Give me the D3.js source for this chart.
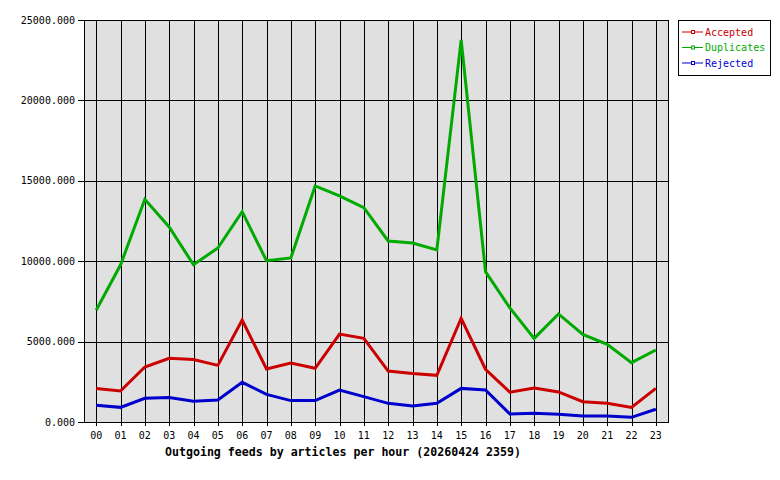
<!DOCTYPE html>
<html><head><meta charset="utf-8">
<script src="https://cdn.jsdelivr.net/npm/d3@7"></script>
<style>body{margin:0;background:#fff}svg{display:block}</style>
</head><body>
<svg id="c" width="780" height="480"></svg>
<script>
const hours = ["00","01","02","03","04","05","06","07","08","09","10","11","12","13","14","15","16","17","18","19","20","21","22","23"];
const accepted = [2090,1930,3420,3960,3880,3520,6340,3300,3670,3340,5470,5200,3170,3010,2900,6450,3280,1850,2110,1870,1260,1160,910,2090];
const duplicates = [6950,9760,13850,12130,9780,10820,13080,10030,10200,14680,14060,13330,11260,11130,10700,23760,9350,7100,5200,6720,5450,4830,3690,4480];
const rejected = [1040,910,1470,1530,1290,1370,2470,1720,1330,1330,1990,1580,1160,1000,1160,2090,1990,500,540,480,370,370,290,790];
const yTicks = [0,5000,10000,15000,20000,25000];
const seriesNames = ["Accepted","Duplicates","Rejected"];
const seriesColors = ["#cc0000","#00aa00","#0000cc"];
const title = "Outgoing feeds by articles per hour (20260424 2359)";

const svg = d3.select("#c");
const L = 84, R = 668, T = 20, B = 422;
const font = "'DejaVu Sans Mono', monospace";
const x = d3.scalePoint().domain(hours).range([L, R]).padding(0.5);
const y = d3.scaleLinear().domain([0, 25000]).range([B, T]);

svg.append("rect").attr("x", L).attr("y", T).attr("width", R - L).attr("height", B - T)
  .attr("fill", "#e0e0e0");

// vertical grid + ticks
svg.append("g").selectAll("line").data(hours).join("line")
  .attr("x1", d => Math.round(x(d)) + 0.5).attr("x2", d => Math.round(x(d)) + 0.5)
  .attr("y1", T).attr("y2", B + 4).attr("stroke", "#000").attr("stroke-width", 1);
// horizontal grid + ticks
svg.append("g").selectAll("line").data(yTicks).join("line")
  .attr("x1", L - 6).attr("x2", R)
  .attr("y1", d => Math.round(y(d)) + 0.5).attr("y2", d => Math.round(y(d)) + 0.5)
  .attr("stroke", "#000").attr("stroke-width", 1);

svg.append("rect").attr("x", L + 0.5).attr("y", T + 0.5).attr("width", R - L).attr("height", B - T)
  .attr("fill", "none").attr("stroke", "#000").attr("stroke-width", 1);

// y labels
svg.append("g").selectAll("text").data(yTicks).join("text")
  .attr("x", 75).attr("y", d => y(d)).attr("dy", "0.35em")
  .attr("text-anchor", "end").attr("font-family", font).attr("font-size", 10)
  .text(d => d3.format(".3f")(d));
// x labels
svg.append("g").selectAll("text").data(hours).join("text")
  .attr("x", d => x(d)).attr("y", 439)
  .attr("text-anchor", "middle").attr("font-family", font).attr("font-size", 10)
  .text(d => d);

svg.append("text").attr("x", 165).attr("y", 456).attr("font-family", font)
  .attr("font-size", 11.6).attr("font-weight", "bold").text(title);

const data = [accepted, duplicates, rejected];
const line = d3.line().x((d, i) => x(hours[i])).y(d => y(d));
[1, 0, 2].forEach(k => {
  svg.append("path").attr("d", line(data[k])).attr("fill", "none")
    .attr("stroke", seriesColors[k]).attr("stroke-width", 3).attr("stroke-linejoin", "miter");
});

// legend
const lg = svg.append("g");
lg.append("rect").attr("x", 678.5).attr("y", 20.5).attr("width", 92).attr("height", 55)
  .attr("fill", "#fff").attr("stroke", "#000");
seriesNames.forEach((n, i) => {
  const yy = 32 + i * 15.5;
  lg.append("line").attr("x1", 682).attr("x2", 703).attr("y1", yy).attr("y2", yy)
    .attr("stroke", seriesColors[i]).attr("stroke-width", 1);
  lg.append("rect").attr("x", 691.5).attr("y", yy - 1.5).attr("width", 3).attr("height", 3)
    .attr("fill", "#fff").attr("stroke", seriesColors[i]).attr("stroke-width", 1);
  lg.append("text").attr("x", 705).attr("y", yy).attr("dy", "0.35em")
    .attr("font-family", font).attr("font-size", 10).attr("fill", seriesColors[i]).text(n);
});
</script>
</body></html>
